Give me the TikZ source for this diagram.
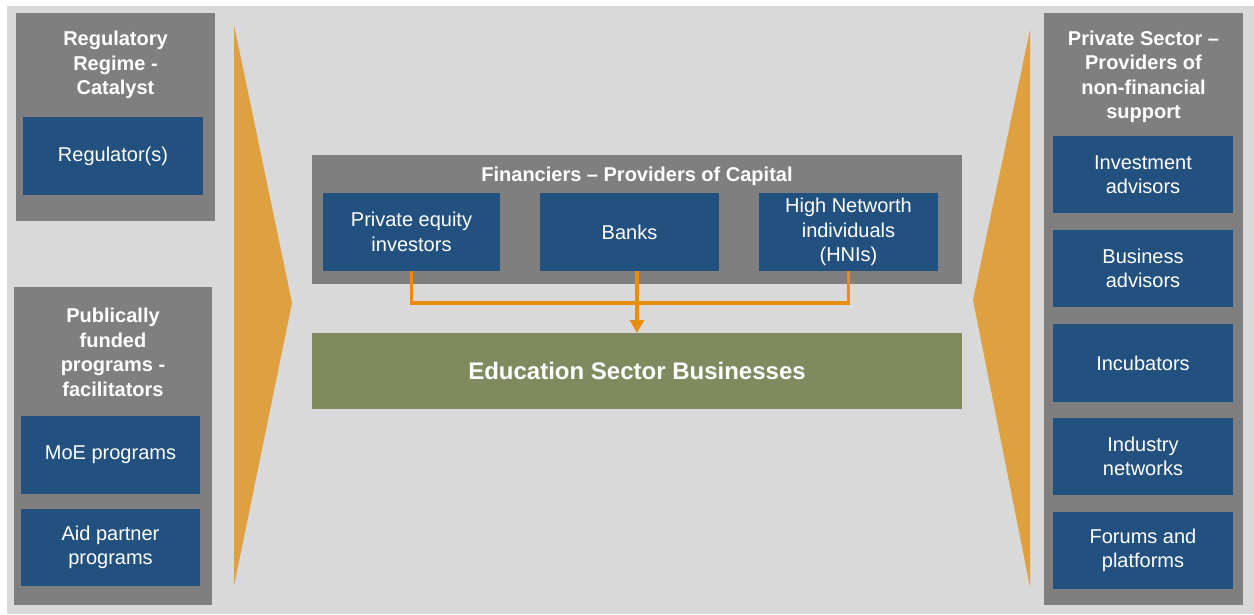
\documentclass[tikz,border=0pt]{standalone}
\usepackage{fontspec}
\setmainfont{Liberation Sans}
\usetikzlibrary{arrows.meta}
\definecolor{bggrey}{HTML}{D9D9D9}
\definecolor{panelgrey}{HTML}{7F7F7F}
\definecolor{boxblue}{HTML}{22517F}
\definecolor{eduolive}{HTML}{7F8A5F}
\definecolor{wedgeorange}{HTML}{DFA040}
\definecolor{linkorange}{HTML}{E58E10}

\begin{document}
\begin{tikzpicture}[x=1pt,y=-1pt,
	every node/.style={inner sep=0pt,outer sep=0pt},
	panel/.style={fill=panelgrey},
	paneltitle/.style={text=white,align=center,font=\fontsize{20}{24.5}\selectfont\bfseries},
	actor/.style={fill=boxblue,text=white,align=center,minimum height=78pt,
		font=\fontsize{20}{24.5}\selectfont},
	sideactor/.style={actor,minimum width=180pt},
	midactor/.style={actor,minimum width=178pt},
	link/.style={draw=linkorange,line width=3.5pt}]
			% Page and light grey backdrop (a thin white margin at top and left).
			\useasboundingbox (0,0) rectangle (1254,614);
			\fill[white] (0,0) rectangle (1254,614);
			\fill[bggrey] (7,6) rectangle (1254,614);

			% Two wedges that funnel the side columns towards the middle.
			\fill[wedgeorange] (234,25) -- (292,303) -- (234,586) -- cycle;
			\fill[wedgeorange] (1030,30) -- (973,300) -- (1030,587) -- cycle;

			% Left column: regulation on top, public programs below.
			\node[panel,minimum width=199pt,minimum height=208pt] (regpanel) at (115.5,117) {};
			\node[paneltitle] (regtitle) at (115.5,65) {Regulatory\\Regime -\\Catalyst};
			\node[sideactor] (regulator) at (113,156) {Regulator(s)};

			\node[panel,minimum width=198pt,minimum height=318pt] (pubpanel) at (113,446) {};
			\node[paneltitle] (pubtitle) at (113,352.5) {Publically\\funded\\programs -\\facilitators};
			\node[sideactor,minimum width=179pt] (moe) at (110.5,455) {MoE programs};
			\node[sideactor,minimum width=179pt,minimum height=77pt] (aid) at (110.5,547.5) {Aid partner\\programs};

			% Right column: non-financial support.
			\node[panel,minimum width=199pt,minimum height=592pt] (privpanel) at (1143.5,309) {};
			\node[paneltitle] (privtitle) at (1143.5,77) {Private Sector --\\Providers of\\non-financial\\support};
			\node[sideactor,minimum height=77pt] (invest) at (1143,174.5) {Investment\\advisors};
			\node[sideactor,minimum height=77pt] (business) at (1143,268.5) {Business\\advisors};
			\node[sideactor] (incub) at (1143,363) {Incubators};
			\node[sideactor,minimum height=77pt] (industry) at (1143,456.5) {Industry\\networks};
			\node[sideactor,minimum height=77pt] (forums) at (1143,550.5) {Forums and\\platforms};

			% Middle: the providers of capital and the businesses they fund.
			\node[panel,minimum width=650pt,minimum height=129pt] (finpanel) at (637,219.5) {};
			\node[paneltitle] (fintitle) at (637,176.5) {Financiers -- Providers of Capital};
			\node[midactor,minimum width=177pt] (pe) at (411.5,232) {Private equity\\investors};
			\node[midactor,minimum width=179pt] (banks) at (629.5,232) {Banks};
			\node[midactor,minimum width=179pt] (hni) at (848.5,232) {High Networth\\individuals\\(HNIs)};

			\node[fill=eduolive,text=white,minimum width=650pt,minimum height=76pt,
				font=\fontsize{24}{28}\selectfont\bfseries] (edu) at (637,371)
				{Education Sector Businesses};

			% Capital flows down into one bus and then onto the businesses.
			\coordinate (bus) at (637,303);
			\draw[link] (pe.south) -- (pe.south |- bus) -- (hni.south |- bus) -- (hni.south);
			\draw[link,-{Triangle[length=13pt,width=14pt]}]
				(banks.south -| edu.north) -- (edu.north);
		\end{tikzpicture}
\end{document}
